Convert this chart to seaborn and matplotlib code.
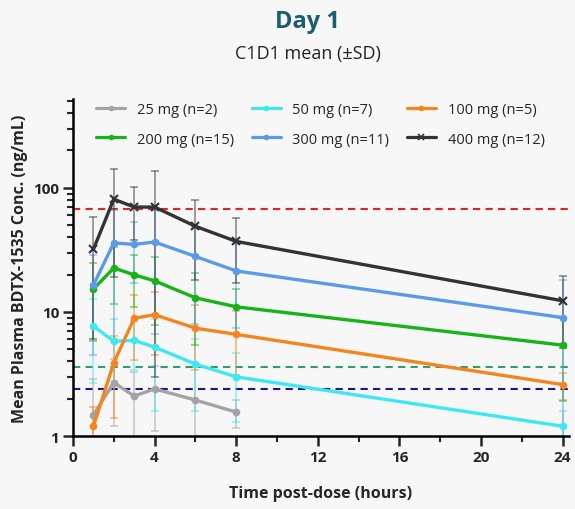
import numpy as np
import pandas as pd
import matplotlib
matplotlib.use("Agg")
import matplotlib.pyplot as plt
import seaborn as sns
from matplotlib.ticker import FixedLocator, LogLocator, NullFormatter

sns.set_style("ticks")
plt.rcParams['font.family'] = ['Open Sans', 'DejaVu Sans']

# ---- data ----
labels = ["25 mg (n=2)", "50 mg (n=7)", "100 mg (n=5)",
          "200 mg (n=15)", "300 mg (n=11)", "400 mg (n=12)"]
colors = ["#a3a3a3", "#3ee8f2", "#f5841f", "#17b317", "#5b9ae6", "#333333"]
markers = ["o", "o", "o", "o", "o", "x"]

t_25 = [1, 2, 3, 4, 6, 8]
m_25 = [1.48, 2.7, 2.1, 2.4, 1.95, 1.56]
sd_25 = [1.4, 1.5, 1.2, 1.3, 1.9, 0.4]

t_full = [1, 2, 3, 4, 6, 8, 24]
m_50 = [7.7, 5.8, 5.9, 5.2, 3.8, 3.0, 1.2]
sd_50 = [5.0, 3.0, 2.5, 3.6, 2.2, 1.7, 0.4]
m_100 = [1.2, 3.9, 8.9, 9.5, 7.4, 6.6, 2.6]
sd_100 = [0.5, 2.5, 4.8, 5.0, 4.0, 3.5, 0.65]
m_200 = [15.3, 22.6, 19.9, 17.8, 13.0, 11.0, 5.4]
sd_200 = [9.5, 11.0, 9.0, 10.0, 7.6, 4.3, 3.5]
m_300 = [16.5, 36.0, 35.0, 36.6, 28.0, 21.4, 9.0]
sd_300 = [12.0, 30.0, 18.0, 30.0, 20.0, 14.0, 9.0]
m_400 = [32.0, 81.0, 70.0, 70.0, 49.0, 37.0, 12.3]
sd_400 = [26.0, 62.0, 32.0, 67.0, 31.0, 20.0, 7.2]

ref_levels = [67.6, 3.6, 2.4]
ref_colors = ["#e52222", "#2aa070", "#1a1a80"]

x_ticks = [0, 4, 8, 12, 16, 20, 24]

series = [(t_25, m_25, sd_25), (t_full, m_50, sd_50), (t_full, m_100, sd_100),
          (t_full, m_200, sd_200), (t_full, m_300, sd_300), (t_full, m_400, sd_400)]

fig = plt.figure(figsize=(5.75, 5.1), dpi=100)
fig.patch.set_facecolor("#f7f7f7")
ax = fig.add_axes([0.127, 0.143, 0.862, 0.661])
ax.set_facecolor("#f7f7f7")

for y, c in zip(ref_levels, ref_colors):
    ax.axhline(y, color=c, ls=(0, (3.5, 2.5)), lw=1.5, zorder=1)

handles = []
for (t, m, sd), lab, c, mk in zip(series, labels, colors, markers):
    t = np.array(t, float); m = np.array(m, float); sd = np.array(sd, float)
    lower = np.minimum(sd, m - 0.01)
    ax.errorbar(t, m, yerr=[lower, sd], fmt="none", ecolor=c, alpha=0.55,
                elinewidth=1.2, capsize=3, capthick=1.2, zorder=2)
    df = pd.DataFrame({"t": t, "m": m})
    sns.lineplot(data=df, x="t", y="m", ax=ax, color=c, lw=2.4, marker=mk,
                 markersize=5.5 if mk == "o" else 6, markeredgewidth=1.5 if mk == "x" else 0,
                 markeredgecolor=c, zorder=3, label=lab, legend=False)
    handles.append(plt.Line2D([], [], color=c, lw=2.3, marker=mk, markersize=4,
                              markeredgewidth=1.2 if mk == "x" else 0, markeredgecolor=c))

ax.set_yscale("log")
ax.set_ylim(1, 520)
ax.set_xlim(0, 24.3)
ax.xaxis.set_major_locator(FixedLocator(x_ticks))
ax.xaxis.set_minor_locator(FixedLocator([2, 6, 10, 14, 18, 22]))
ax.yaxis.set_major_locator(FixedLocator([1, 10, 100]))
ax.yaxis.set_minor_locator(LogLocator(base=10, subs=np.arange(2, 10)))
ax.yaxis.set_minor_formatter(NullFormatter())
ax.set_yticklabels(["1", "10", "100"])

for s in ["top", "right"]:
    ax.spines[s].set_visible(False)
for s in ["left", "bottom"]:
    ax.spines[s].set_linewidth(1.8)
    ax.spines[s].set_color("black")
ax.tick_params(which="major", length=7, width=1.8, labelsize=11, pad=3)
ax.tick_params(which="minor", length=4, width=1.5)
for lb in ax.get_xticklabels() + ax.get_yticklabels():
    lb.set_fontweight("bold")

ax.set_xlabel("Time post-dose (hours)", fontsize=11.5, fontweight="bold", labelpad=15)
ax.set_ylabel("Mean Plasma BDTX-1535 Conc. (ng/mL)", fontsize=11.5, fontweight="bold", labelpad=4)

order = [0, 3, 1, 4, 2, 5]
ax.legend([handles[i] for i in order], [labels[i] for i in order], ncol=3,
          loc="upper left", bbox_to_anchor=(0.02, 1.03), frameon=False, fontsize=10.5,
          handlelength=2.0, columnspacing=1.2, labelspacing=1.0, handletextpad=0.8)

fig.text(0.535, 0.957, "Day 1", ha="center", va="center", fontsize=17,
         fontweight="bold", color="#1b5e6d")
fig.text(0.535, 0.895, "C1D1 mean (±SD)", ha="center", va="center", fontsize=13,
         color="#222222")

fig.savefig("out.png", dpi=100, facecolor=fig.get_facecolor())
